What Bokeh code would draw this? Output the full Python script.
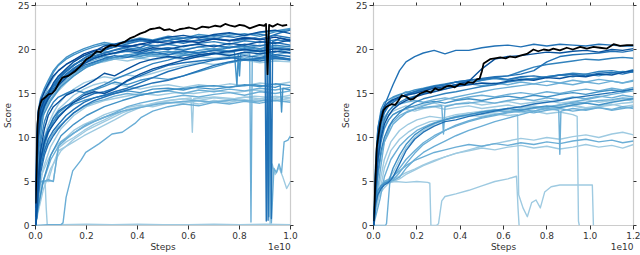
from bokeh.plotting import figure
from bokeh.models import Range1d, LinearAxis, FixedTicker, PrintfTickFormatter, CustomJSTickFormatter
from bokeh.layouts import row
from bokeh.embed import file_html
from bokeh.resources import INLINE

# ---------------- data: left panel ----------------
XL = [0, 0.005, 0.01, 0.02, 0.035, 0.05, 0.07, 0.09, 0.12, 0.15, 0.19, 0.23, 0.27,
      0.31, 0.36, 0.41, 0.46, 0.52, 0.58, 0.64, 0.7, 0.76, 0.82, 0.88, 0.94, 1.0]

T1 = [2, 8, 11.5, 13.2, 14.3, 15.0, 16.2, 17.0, 17.8, 18.6, 19.3, 19.8, 20.4, 20.6, 20.9, 21.2, 21.0, 21.4, 21.6, 21.3, 21.7, 21.9, 21.6, 22.0, 22.2, 21.8]
T2 = [1, 6, 10.5, 12.8, 14.0, 14.8, 15.8, 16.6, 17.5, 18.2, 19.0, 19.6, 19.9, 20.3, 20.5, 20.2, 20.8, 21.0, 20.7, 21.1, 21.3, 21.0, 21.4, 21.2, 21.6, 21.3]
T3 = [3, 9, 12.5, 14.0, 15.3, 16.2, 17.4, 18.2, 18.9, 19.4, 19.9, 20.3, 20.6, 20.5, 20.8, 21.1, 20.9, 21.3, 21.0, 21.5, 21.2, 21.6, 21.8, 21.5, 22.0, 22.3]
T4 = [0.5, 5, 9.5, 12.0, 13.5, 14.5, 15.5, 16.4, 17.2, 17.9, 18.6, 19.0, 19.3, 19.6, 19.8, 19.6, 20.0, 20.2, 19.9, 20.3, 20.5, 20.2, 20.6, 20.4, 20.8, 20.5]
T5 = [2, 7, 11.0, 13.2, 14.8, 15.8, 16.8, 17.6, 18.3, 18.8, 19.3, 19.5, 19.8, 19.5, 19.9, 20.1, 19.8, 20.2, 20.0, 20.3, 20.0, 20.4, 20.1, 20.5, 20.2, 20.4]
T6 = [1, 6.5, 10.8, 12.5, 13.8, 14.6, 15.4, 16.0, 16.8, 17.4, 18.0, 18.5, 18.9, 19.1, 19.4, 19.2, 19.6, 19.8, 19.5, 19.9, 20.1, 19.8, 20.2, 20.0, 20.3, 20.1]
T7 = [4, 10, 12.8, 14.2, 15.2, 16.0, 17.0, 17.6, 18.3, 18.8, 19.5, 19.9, 20.1, 20.5, 20.3, 20.6, 20.9, 20.7, 21.0, 20.8, 21.2, 21.0, 21.3, 21.1, 21.4, 21.0]
T8 = [0, 4, 9.0, 11.8, 13.2, 14.0, 14.8, 15.6, 16.5, 17.2, 18.0, 18.3, 18.7, 18.9, 19.2, 19.0, 19.3, 19.1, 19.4, 19.2, 19.5, 19.3, 19.0, 19.4, 19.2, 18.8]
T9 = [2, 7.5, 11.5, 13.4, 14.6, 15.3, 16.0, 16.9, 17.6, 18.3, 18.8, 19.3, 19.6, 19.9, 20.2, 20.0, 20.4, 20.6, 20.3, 20.7, 20.9, 20.6, 21.0, 20.8, 21.1, 20.9]
T10 = [1.5, 7, 10.5, 12.6, 13.9, 14.7, 15.9, 16.3, 17.0, 17.5, 18.2, 18.6, 19.0, 19.3, 19.1, 19.5, 19.7, 19.4, 19.8, 19.6, 19.9, 19.7, 20.0, 19.8, 20.1, 19.9]
T11 = [0, 3, 8.0, 11.0, 12.8, 13.8, 14.6, 15.3, 16.2, 17.0, 17.8, 18.4, 18.6, 18.9, 18.7, 19.0, 18.8, 19.1, 18.9, 19.2, 19.0, 19.2, 18.9, 19.1, 18.8, 19.0]
T12 = [3, 9.5, 13.0, 14.5, 15.6, 16.5, 17.6, 18.3, 19.1, 19.6, 20.1, 20.5, 20.8, 20.6, 21.0, 21.3, 21.1, 21.5, 21.3, 21.7, 21.5, 21.8, 21.6, 21.9, 22.1, 22.4]
T13 = [1, 5.5, 10.0, 12.3, 13.6, 14.4, 15.2, 15.9, 16.8, 17.6, 18.4, 19.0, 19.4, 19.6, 20.0, 19.8, 20.2, 20.0, 20.4, 20.6, 20.3, 20.7, 20.5, 20.9, 20.7, 21.1]
M1 = [0, 2, 5, 8.5, 11.0, 12.5, 13.5, 14.0, 14.8, 15.2, 15.8, 16.5, 17.3, 17.0, 17.8, 18.5, 18.9, 19.2, 19.0, 19.4, 19.6, 19.3, 19.7, 19.5, 19.8, 19.6]
M2 = [0, 1.5, 4, 7.5, 9.5, 11.0, 12.2, 13.0, 13.6, 14.0, 14.5, 15.0, 15.2, 15.6, 16.4, 17.0, 17.6, 18.2, 18.5, 18.7, 18.9, 19.1, 18.8, 19.0, 19.2, 18.9]
M3 = [0, 3, 6, 9.5, 11.8, 13.0, 14.0, 14.6, 15.0, 15.4, 15.1, 15.5, 16.0, 16.6, 17.2, 17.8, 18.4, 18.8, 19.3, 19.6, 19.9, 20.2, 20.4, 20.1, 20.5, 20.3]
M4 = [0, 2, 5, 8, 10, 11.5, 12.8, 13.8, 14.8, 15.5, 16.2, 16.6, 16.9, 16.7, 17.1, 16.9, 17.3, 17.8, 18.2, 18.5, 18.3, 18.6, 18.8, 18.5, 18.7, 18.6]
M5 = [0, 1, 3.5, 6.5, 8.5, 9.8, 10.8, 11.5, 12.5, 13.2, 14.0, 14.5, 14.8, 15.2, 15.6, 16.2, 16.8, 17.5, 18.0, 18.4, 18.8, 19.0, 19.3, 19.1, 19.4, 19.2]
M6 = [0, 2, 4.5, 7, 9, 10.5, 11.8, 12.8, 13.5, 14.2, 15.0, 15.4, 15.8, 16.3, 16.0, 16.5, 16.8, 16.6, 17.0, 17.5, 18.0, 18.5, 18.8, 18.9, 19.1, 18.9]
L1 = [0, 1, 3, 5, 5.1, 5.0, 5.1, 8.8, 9.5, 10.0, 10.8, 11.5, 12.0, 12.6, 13.2, 13.5, 13.8, 14.0, 13.9, 14.2, 14.0, 14.3, 14.1, 14.4, 14.2, 14.5]
L2 = [0, 1.5, 3.5, 5, 5.0, 5.2, 5.0, 9.0, 9.8, 10.5, 11.2, 11.8, 12.3, 12.8, 13.5, 13.9, 14.2, 14.5, 14.8, 14.6, 14.9, 15.1, 14.8, 15.2, 15.0, 15.3]
L3 = [0, 2, 4, 5.5, 6.5, 7.5, 8.5, 9.3, 10.0, 10.8, 11.5, 12.0, 12.6, 13.0, 13.4, 13.7, 13.5, 13.9, 14.1, 13.8, 14.2, 14.0, 14.3, 14.1, 14.4, 14.2]
L4 = [0, 2.5, 5, 7, 8.5, 9.5, 10.5, 11.2, 12.0, 12.8, 13.5, 14.0, 14.3, 14.7, 15.0, 14.8, 15.1, 15.3, 15.0, 15.4, 15.2, 15.5, 15.3, 15.6, 15.4, 15.7]
L5 = [0, 3, 6, 8.5, 10.0, 11.0, 11.8, 12.5, 13.2, 13.8, 14.2, 14.5, 14.8, 15.0, 15.3, 15.1, 15.5, 15.6, 15.4, 15.8, 15.9, 15.7, 16.0, 15.8, 16.1, 15.9]
L6 = [0, 1, 2.5, 4.5, 5.0, 5.1, 7.0, 8.5, 9.0, 9.5, 10.2, 10.8, 11.4, 12.0, 12.8, 13.4, 13.8, 14.2, 14.4, 14.2, 14.5, 14.3, 14.6, 14.4, 14.7, 14.5]
L7 = [0, 2, 4.5, 7.5, 9.5, 11.0, 12.3, 13.2, 14.0, 14.8, 15.5, 16.0, 16.3, 16.1, 15.8, 15.5, 15.8, 16.0, 15.7, 16.0, 15.8, 16.1, 15.9, 16.2, 16.0, 16.3]
D1 = [0, 1, 3, 6, 8, 9.2, 10.2, 11.0, 12.0, 12.8, 13.6, 14.2, 14.6, 15.0, 15.4, 15.8, 16.2, 16.5, 17.0, 17.6, 18.2, 18.6, 18.9, 18.7, 19.0, 18.8]
D2 = [0, 2, 4.5, 7.5, 9.5, 10.6, 11.5, 12.3, 13.2, 14.0, 14.8, 15.2, 15.0, 15.5, 16.5, 17.2, 17.8, 18.3, 18.8, 19.2, 19.5, 19.8, 20.0, 19.8, 20.1, 20.0]

# left runs with their own step values (drops / restarts)
S1_X = [0, 0.05, 0.1, 0.108, 0.12, 0.146, 0.178, 0.197, 0.25, 0.3, 0.34, 0.39, 0.415, 0.46, 0.52, 0.58, 0.64, 0.7, 0.76, 0.82, 0.88, 0.94, 1.0]
S1_Y = [0, 0.1, 0.1, 0.3, 3.2, 6.2, 7.4, 8.3, 9.3, 10.4, 10.6, 11.6, 12.3, 13.0, 13.5, 13.8, 13.6, 14.0, 13.8, 14.1, 13.9, 14.2, 14.0]
S2_X = [0, 0.005, 0.01, 0.02, 0.03, 0.038, 0.042, 0.046, 0.1, 0.2, 0.3, 0.4, 0.5, 0.6, 0.7, 0.8, 0.9, 1.0]
S2_Y = [0, 2, 4, 4.8, 4.9, 4.8, 2, 0.1, 0.1, 0.15, 0.1, 0.15, 0.1, 0.1, 0.15, 0.1, 0.15, 0.1]
S3_X = [0, 0.01, 0.03, 0.06, 0.1, 0.15, 0.2, 0.27, 0.34, 0.41, 0.48, 0.55, 0.62, 0.7, 0.78, 0.84, 0.845, 0.85, 0.88, 0.94, 1.0]
S3_Y = [1, 9, 13, 14.8, 16.2, 17.5, 18.5, 19.2, 19.0, 19.4, 19.2, 19.5, 19.3, 19.6, 19.4, 19.5, 0.4, 19.2, 19.6, 19.4, 19.7]
S4_X = [0, 0.01, 0.03, 0.06, 0.1, 0.15, 0.2, 0.27, 0.34, 0.41, 0.48, 0.55, 0.62, 0.7, 0.78, 0.86, 0.9, 0.905, 0.91, 0.92, 0.925, 0.93, 0.96, 1.0]
S4_Y = [2, 10, 13.5, 15, 16.5, 17.8, 18.8, 19.6, 20.2, 20.6, 20.4, 20.8, 21.0, 21.2, 21.0, 21.3, 21.1, 0.5, 21.0, 21.2, 0.8, 20.9, 21.3, 21.1]
S5_X = [0, 0.01, 0.03, 0.06, 0.1, 0.15, 0.2, 0.27, 0.34, 0.41, 0.48, 0.55, 0.62, 0.7, 0.78, 0.86, 0.92, 0.925, 0.935, 0.945, 0.955, 0.965, 0.975, 0.99, 1.0]
S5_Y = [0, 2, 5, 7.5, 9.5, 10.5, 11.5, 12.3, 13.0, 13.4, 13.8, 14.0, 14.2, 14.0, 14.3, 14.1, 14.3, 0.3, 6.5, 6.0, 7.0, 6.0, 9.5, 9.7, 10.2]
S6_X = [0, 0.01, 0.03, 0.06, 0.1, 0.15, 0.2, 0.27, 0.34, 0.41, 0.48, 0.55, 0.62, 0.7, 0.78, 0.86, 0.915, 0.92, 0.928, 0.94, 0.955, 0.97, 0.985, 1.0]
S6_Y = [0, 3, 6.5, 9, 11, 12.5, 13.5, 14.2, 14.6, 15.0, 14.8, 15.1, 15.0, 15.3, 15.1, 15.4, 15.2, 0.2, 7.0, 5.8, 6.6, 5.5, 4.2, 5.0]
S7_X = [0, 0.01, 0.03, 0.06, 0.1, 0.15, 0.2, 0.27, 0.34, 0.41, 0.48, 0.55, 0.61, 0.615, 0.62, 0.7, 0.78, 0.86, 0.94, 1.0]
S7_Y = [0, 1.5, 4, 6.5, 8.5, 9.8, 10.8, 11.8, 12.8, 13.5, 14.0, 14.3, 14.5, 10.6, 14.4, 14.6, 14.4, 14.7, 14.5, 14.8]
S8_X = [0, 0.01, 0.03, 0.06, 0.1, 0.15, 0.2, 0.27, 0.34, 0.41, 0.48, 0.55, 0.62, 0.7, 0.78, 0.79, 0.795, 0.8, 0.805, 0.86, 0.91, 0.915, 0.92, 0.96, 1.0]
S8_Y = [1, 8, 12.5, 14.2, 15.8, 17.0, 18.0, 18.8, 19.3, 19.6, 19.4, 19.8, 19.6, 19.9, 19.7, 15.9, 19.5, 17.0, 19.6, 19.8, 19.7, 1.0, 19.5, 19.9, 19.6]
S9_X = [0, 0.01, 0.03, 0.06, 0.1, 0.15, 0.2, 0.27, 0.34, 0.41, 0.48, 0.55, 0.62, 0.7, 0.78, 0.86, 0.908, 0.912, 0.918, 0.96, 1.0]
S9_Y = [3, 11, 14, 15.5, 17, 18.2, 19.2, 20, 20.5, 21, 20.8, 21.2, 21.4, 21.6, 21.4, 21.8, 21.6, 0.6, 21.5, 21.9, 22.2]
S10_X = [0, 0.01, 0.03, 0.06, 0.1, 0.15, 0.2, 0.27, 0.34, 0.41, 0.48, 0.55, 0.62, 0.7, 0.78, 0.86, 0.94, 0.96, 0.965, 0.97, 1.0]
S10_Y = [0, 2, 5, 8, 10.2, 11.5, 12.5, 13.5, 14.2, 14.8, 15.2, 15.5, 15.7, 15.5, 15.8, 16.0, 15.7, 15.9, 12.9, 15.6, 15.4]

BL_X = [0, 0.004, 0.008, 0.013, 0.02, 0.026, 0.04, 0.051, 0.065, 0.077, 0.09, 0.105, 0.128, 0.154, 0.179, 0.2, 0.218, 0.24, 0.256, 0.275,
        0.295, 0.315, 0.333, 0.352, 0.372, 0.39, 0.41, 0.43, 0.449, 0.47, 0.487, 0.505, 0.526, 0.545, 0.564, 0.585, 0.603, 0.63, 0.654, 0.68,
        0.705, 0.725, 0.744, 0.765, 0.782, 0.8, 0.82, 0.84, 0.859, 0.878, 0.897, 0.904, 0.91, 0.916, 0.93, 0.949, 0.968, 0.987]
BL_Y = [2.5, 6, 11.5, 13.2, 13.9, 14.3, 14.6, 14.9, 15.0, 15.4, 16.1, 16.8, 17.0, 17.5, 18.2, 18.9, 19.2, 19.8, 19.7, 20.2,
        20.5, 20.4, 20.7, 20.9, 21.3, 21.5, 21.8, 22.0, 22.3, 22.4, 22.5, 22.2, 22.3, 22.1, 22.3, 22.4, 22.5, 22.3, 22.6, 22.5,
        22.7, 22.6, 22.9, 22.7, 22.6, 22.8, 22.7, 22.4, 22.6, 22.8, 22.7, 22.9, 17.2, 22.8, 22.6, 22.9, 22.7, 22.8]

# ---------------- data: right panel ----------------
XR = [0, 0.005, 0.01, 0.02, 0.035, 0.05, 0.07, 0.09, 0.12, 0.15, 0.19, 0.23, 0.28, 0.33, 0.38,
      0.44, 0.5, 0.56, 0.62, 0.68, 0.74, 0.8, 0.86, 0.92, 0.98, 1.04, 1.1, 1.15, 1.2]

R1 = [0, 3, 7, 11, 12.8, 13.6, 14.8, 16.0, 17.6, 18.6, 19.2, 19.6, 19.9, 19.5, 19.9, 19.9, 20.2, 20.4, 20.5, 20.3, 20.6, 20.4, 20.6, 20.5, 20.4, 20.6, 20.5, 20.4, 20.4]
R2 = [0, 2.5, 6, 10, 12.5, 13.5, 14.0, 14.3, 14.6, 14.8, 15.0, 15.3, 15.6, 15.8, 16.0, 16.4, 17.8, 18.9, 19.2, 19.3, 19.5, 19.7, 19.6, 19.8, 19.9, 19.7, 20.0, 19.9, 20.1]
R3 = [0, 2, 5, 9, 11.8, 13.0, 13.8, 14.2, 14.5, 14.8, 15.2, 15.5, 15.8, 16.0, 16.3, 16.5, 16.7, 16.9, 17.0, 17.2, 17.6, 18.6, 19.2, 19.4, 19.5, 19.6, 19.8, 19.7, 19.9]
R4 = [0, 2, 4.5, 8, 10.5, 12.0, 13.0, 13.6, 14.0, 14.4, 14.7, 15.0, 15.4, 15.7, 16.0, 16.2, 16.5, 16.8, 17.0, 17.5, 18.0, 18.3, 18.5, 18.7, 18.9, 18.8, 19.0, 19.1, 19.0]
B1 = [0, 2, 5, 9, 11.5, 12.8, 13.6, 14.0, 14.5, 14.9, 15.2, 15.5, 15.8, 16.0, 16.3, 16.5, 16.6, 16.8, 16.6, 16.9, 17.0, 16.8, 17.1, 17.2, 17.0, 17.3, 17.4, 17.2, 17.5]
B2 = [0, 3, 7, 11, 13.2, 14.0, 14.3, 14.6, 14.9, 15.1, 15.4, 15.6, 15.9, 16.1, 16.3, 16.2, 16.5, 16.7, 16.5, 16.8, 16.6, 16.9, 17.1, 16.9, 17.2, 17.0, 17.3, 17.5, 17.4]
B3 = [0, 1.5, 4, 7.5, 10, 11.5, 12.5, 13.2, 13.8, 14.2, 14.6, 14.9, 15.2, 15.5, 15.8, 16.0, 16.2, 16.1, 16.4, 16.6, 16.5, 16.8, 16.7, 17.0, 16.9, 17.2, 17.1, 17.4, 17.6]
B4 = [0, 2.5, 6, 10, 12.5, 13.5, 14.0, 14.5, 14.8, 15.2, 15.0, 15.4, 15.7, 15.5, 15.9, 16.1, 15.9, 16.2, 16.0, 16.3, 16.1, 16.4, 16.2, 16.5, 16.3, 16.6, 16.4, 16.2, 16.4]
B5 = [0, 1, 3, 6, 8.5, 10, 11.2, 12, 12.8, 13.4, 14.0, 14.4, 14.7, 15.0, 15.2, 15.5, 15.8, 16.0, 16.3, 16.5, 16.7, 16.9, 17.1, 17.3, 17.2, 17.5, 17.6, 17.4, 17.7]
C1 = [0, 2, 5, 8.5, 11, 12.3, 13.0, 13.5, 13.8, 14.0, 14.2, 14.0, 14.3, 14.5, 14.3, 14.6, 14.8, 14.6, 14.9, 15.1, 14.9, 15.2, 15.0, 15.3, 15.5, 15.3, 15.6, 15.4, 15.7]
C2 = [0, 1.5, 4, 7, 9.5, 11, 12, 12.6, 13.0, 13.3, 13.6, 13.9, 14.1, 13.9, 14.2, 14.4, 14.2, 14.5, 14.7, 14.5, 14.8, 14.6, 14.9, 15.1, 14.9, 15.2, 15.4, 15.2, 15.5]
C3 = [0, 2, 5, 8, 10.5, 11.8, 12.5, 13.0, 13.3, 13.6, 13.4, 13.7, 13.9, 13.6, 13.8, 14.0, 13.7, 13.9, 14.1, 13.8, 14.0, 14.2, 13.9, 14.1, 14.3, 14.0, 14.2, 14.4, 14.1]
C4 = [0, 1, 3, 5.5, 8, 9.5, 10.5, 11.5, 12.2, 12.8, 13.2, 13.6, 14.0, 14.3, 14.6, 14.9, 15.2, 15.5, 15.7, 15.9, 16.1, 15.9, 16.2, 16.0, 16.3, 16.1, 16.4, 16.2, 16.5]
C5 = [0, 2, 4.5, 7.5, 10, 11.2, 12.0, 12.6, 13.0, 13.2, 13.0, 13.3, 13.5, 13.2, 13.4, 13.6, 13.3, 13.5, 13.7, 13.4, 13.6, 13.3, 13.5, 13.7, 13.4, 13.6, 13.8, 13.5, 13.7]
W1 = [0, 1, 2.5, 3.5, 4.2, 4.6, 4.9, 5.5, 7.0, 8.5, 9.8, 10.6, 11.3, 11.8, 12.0, 12.4, 12.7, 13.0, 13.3, 13.5, 13.8, 14.0, 14.2, 14.5, 14.7, 14.9, 15.1, 15.3, 15.5]
W2 = [0, 1.5, 3, 4, 4.5, 4.8, 5.0, 6.5, 8.0, 9.2, 10.3, 11.0, 11.6, 12.0, 12.3, 12.6, 12.9, 13.1, 13.3, 13.1, 13.4, 13.6, 13.4, 13.7, 13.9, 13.7, 14.0, 14.2, 14.4]
W3 = [0, 1, 2, 3.5, 4.2, 4.8, 5.0, 5.2, 6.0, 7.0, 8.2, 9.2, 10.0, 10.8, 11.4, 11.9, 12.3, 12.6, 12.9, 13.1, 13.3, 13.5, 13.7, 13.9, 14.0, 14.2, 14.3, 14.5, 14.4]
W4 = [0, 1.5, 3, 4, 4.6, 5.0, 5.3, 6.0, 7.5, 8.8, 10.0, 10.8, 11.5, 12.0, 12.4, 12.8, 13.0, 13.2, 13.0, 13.3, 13.5, 13.2, 13.4, 13.6, 13.3, 13.5, 13.7, 13.9, 14.0]
W5 = [0, 1, 2.5, 3.8, 4.5, 4.9, 5.0, 5.1, 5.5, 6.5, 7.5, 8.3, 9.0, 9.6, 10.2, 10.8, 11.3, 11.8, 12.2, 12.6, 13.0, 13.4, 13.7, 14.0, 14.3, 14.6, 14.9, 15.1, 15.3]
V1 = [0, 1, 2, 3, 3.8, 4.3, 4.8, 5.0, 5.3, 5.8, 6.3, 6.8, 7.3, 7.8, 8.2, 8.6, 9.0, 9.3, 9.6, 9.9, 9.7, 10.0, 9.8, 10.1, 10.3, 10.0, 10.4, 10.6, 10.3]
V2 = [0, 1.5, 2.8, 3.8, 4.5, 5.0, 5.2, 5.6, 6.2, 6.8, 7.4, 7.8, 8.3, 8.6, 8.9, 9.2, 9.0, 9.3, 9.1, 9.4, 9.2, 9.5, 9.3, 9.6, 9.8, 9.5, 9.7, 9.4, 9.6]
V3 = [0, 1, 2.5, 3.5, 4.2, 4.7, 5.0, 5.3, 5.6, 6.0, 6.4, 6.9, 7.4, 7.8, 8.2, 8.5, 8.8, 8.6, 8.9, 9.1, 8.8, 9.0, 8.7, 8.9, 9.2, 8.9, 9.1, 8.8, 9.2]

RS1_X = [0, 0.01, 0.03, 0.05, 0.1, 0.15, 0.2, 0.25, 0.26, 0.265, 0.29, 0.3, 0.315, 0.33, 0.38, 0.44, 0.5, 0.56, 0.62, 0.66, 0.667, 0.672]
RS1_Y = [0, 2, 4, 4.9, 5.0, 4.9, 5.0, 4.9, 4.8, 0, 0, 0.2, 2.8, 3.3, 3.6, 4.0, 4.5, 5.0, 5.3, 5.6, 2.0, 0]
RS3_X = [0, 0.01, 0.03, 0.05, 0.08, 0.12, 0.16, 0.2, 0.26, 0.32, 0.38, 0.44, 0.5, 0.56, 0.62, 0.665, 0.67, 0.69, 0.71, 0.73, 0.75, 0.77, 0.79, 0.82, 0.86, 0.92, 0.98, 1.01, 1.015]
RS3_Y = [0, 1.5, 4, 6.5, 8.5, 9.8, 10.6, 11.2, 11.8, 12.0, 12.3, 12.5, 12.4, 12.7, 12.5, 12.6, 3.5, 2.0, 1.0, 2.6, 2.9, 2.0, 3.8, 4.4, 4.6, 4.6, 4.6, 4.6, 0]
RS4_X = [0, 0.055, 0.06, 0.075, 0.09, 0.12, 0.15, 0.19, 0.23, 0.28, 0.33, 0.38, 0.44, 0.5, 0.56, 0.62, 0.68, 0.74, 0.8, 0.86, 0.92, 0.98, 1.04, 1.1, 1.15, 1.2]
RS4_Y = [0, 0, 0.2, 4.8, 5.5, 6.5, 7.5, 8.5, 9.4, 10.2, 10.8, 11.3, 11.8, 12.2, 12.5, 12.8, 13.0, 12.8, 13.1, 13.3, 13.0, 13.2, 13.4, 13.1, 13.3, 13.5]
RS5_X = [0, 0.01, 0.03, 0.05, 0.08, 0.12, 0.16, 0.2, 0.26, 0.32, 0.38, 0.44, 0.5, 0.56, 0.62, 0.68, 0.74, 0.8, 0.855, 0.86, 0.865, 0.92, 0.98, 1.04, 1.1, 1.15, 1.2]
RS5_Y = [0, 1, 3, 5.5, 7.5, 9.0, 10.0, 10.8, 11.5, 12.0, 12.4, 12.6, 12.9, 13.1, 12.9, 13.2, 13.0, 13.3, 13.1, 8.1, 13.0, 13.3, 13.1, 13.4, 13.2, 13.5, 13.3]
RS6_X = [0, 0.01, 0.03, 0.05, 0.08, 0.12, 0.16, 0.2, 0.26, 0.32, 0.38, 0.44, 0.5, 0.56, 0.62, 0.68, 0.74, 0.8, 0.86, 0.92, 0.94, 0.946, 0.95]
RS6_Y = [0, 2, 5, 7.5, 9.5, 10.8, 11.5, 12.0, 12.4, 12.2, 12.6, 12.8, 12.6, 12.9, 13.1, 12.8, 13.0, 12.7, 12.9, 12.6, 12.4, 0.5, 0]
RS7_X = [0, 0.01, 0.03, 0.05, 0.08, 0.12, 0.16, 0.2, 0.26, 0.315, 0.323, 0.33, 0.38, 0.44, 0.5, 0.56, 0.62, 0.68, 0.74, 0.8, 0.86, 0.92, 0.98, 1.04, 1.1, 1.15, 1.2]
RS7_Y = [0, 2.5, 6, 9.5, 11.5, 12.5, 13.0, 13.3, 13.5, 13.6, 10.4, 13.5, 13.8, 13.9, 14.1, 13.9, 14.2, 14.4, 14.2, 14.5, 14.3, 14.6, 14.4, 14.7, 14.5, 14.8, 14.6]

BR_X = [0, 0.005, 0.015, 0.031, 0.046, 0.06, 0.085, 0.1, 0.115, 0.13, 0.154, 0.17, 0.185, 0.2, 0.215, 0.246, 0.265, 0.285, 0.3, 0.315,
        0.335, 0.354, 0.375, 0.4, 0.42, 0.438, 0.46, 0.477, 0.49, 0.5, 0.508, 0.538, 0.56, 0.585, 0.61, 0.63, 0.655, 0.677, 0.708, 0.738,
        0.76, 0.785, 0.81, 0.83, 0.86, 0.892, 0.92, 0.954, 0.985, 1.015, 1.045, 1.077, 1.108, 1.138, 1.17, 1.2]
BR_Y = [0.5, 2.8, 8.9, 11.6, 13.1, 13.5, 13.8, 13.7, 14.2, 14.8, 14.6, 14.3, 14.4, 14.7, 15.0, 15.3, 15.1, 15.6, 15.4, 15.5,
        15.8, 15.9, 15.7, 16.1, 16.0, 16.3, 16.2, 16.6, 16.7, 17.5, 18.4, 18.9, 19.0, 19.1, 19.0, 19.2, 19.1, 19.3, 19.5, 20.0,
        19.8, 20.0, 19.9, 20.1, 19.9, 20.2, 20.0, 20.3, 20.1, 20.3, 20.2, 20.1, 20.6, 20.4, 20.5, 20.5]

Y_TICKS = [0, 5, 10, 15, 20, 25]
XL_TICKS = [0, 0.2, 0.4, 0.6, 0.8, 1.0]
XR_TICKS = [0, 0.2, 0.4, 0.6, 0.8, 1.0, 1.2]
X_TITLE = "Steps"
Y_TITLE = "Score"
X_OFFSET_TEXT = "1e10"

# ---------------- styling ----------------
C_VL, C_L, C_M2, C_M, C_D2, C_D, C_DD = "#9ecae1", "#6baed6", "#4292c6", "#3182bd", "#2171b5", "#08519c", "#084594"
ORDER = [C_VL, C_L, C_M2, C_M, C_D2, C_D, C_DD]

left_runs = [
    (XL, T1, C_D), (XL, T2, C_D2), (XL, T3, C_M2), (XL, T4, C_D2), (XL, T5, C_L), (XL, T6, C_M2),
    (XL, T7, C_DD), (XL, T8, C_L), (XL, T9, C_M), (XL, T10, C_D2), (XL, T11, C_VL), (XL, T12, C_M2),
    (XL, T13, C_D), (XL, M1, C_D), (XL, M2, C_D2), (XL, M3, C_M), (XL, M4, C_VL), (XL, M5, C_D2),
    (XL, M6, C_M2), (XL, L1, C_VL), (XL, L2, C_L), (XL, L3, C_VL), (XL, L4, C_L), (XL, L5, C_M2),
    (XL, L6, C_VL), (XL, L7, C_VL), (XL, D1, C_D2), (XL, D2, C_D),
    (S1_X, S1_Y, C_L), (S2_X, S2_Y, C_VL), (S3_X, S3_Y, C_L), (S4_X, S4_Y, C_D2), (S5_X, S5_Y, C_L),
    (S6_X, S6_Y, C_VL), (S7_X, S7_Y, C_VL), (S8_X, S8_Y, C_M2), (S9_X, S9_Y, C_D2), (S10_X, S10_Y, C_M2),
]
right_runs = [
    (XR, R1, C_D2), (XR, R2, C_D), (XR, R3, C_D2), (XR, R4, C_M), (XR, B1, C_D2), (XR, B2, C_M2),
    (XR, B3, C_D), (XR, B4, C_L), (XR, B5, C_M), (XR, C1, C_L), (XR, C2, C_M2), (XR, C3, C_VL),
    (XR, C4, C_L), (XR, C5, C_VL), (XR, W1, C_D2), (XR, W2, C_M2), (XR, W3, C_L), (XR, W4, C_VL),
    (XR, W5, C_L), (XR, V1, C_VL), (XR, V2, C_L), (XR, V3, C_VL),
    (RS1_X, RS1_Y, C_VL), (RS3_X, RS3_Y, C_VL), (RS4_X, RS4_Y, C_L), (RS5_X, RS5_Y, C_L),
    (RS6_X, RS6_Y, C_VL), (RS7_X, RS7_Y, C_L),
]

FONT = "DejaVu Sans"
TXT = "#333333"
FS = "9px"


def style_axis(ax, ticks, labels=True, tick_out=4):
    ax.ticker = FixedTicker(ticks=ticks)
    ax.axis_line_color = None
    ax.major_tick_line_color = TXT
    ax.major_tick_out = tick_out
    ax.major_tick_in = 0
    ax.minor_tick_line_color = None
    ax.major_label_text_font = FONT
    ax.major_label_text_color = TXT
    ax.major_label_standoff = 2 if labels else 0
    ax.major_label_text_font_size = FS if labels else "1px"
    if not labels:
        ax.formatter = CustomJSTickFormatter(code="return ''")
    ax.axis_label_text_font = FONT
    ax.axis_label_text_font_size = FS
    ax.axis_label_text_font_style = "normal"
    ax.axis_label_text_color = TXT
    ax.axis_label_standoff = 2


def make_fig(xmax, xticks, runs, black, w, bl, br, frame_w):
    p = figure(width=w, height=255, x_range=Range1d(0, xmax), y_range=Range1d(0, 25),
               output_backend="svg", toolbar_location=None,
               min_border_left=bl, min_border_right=br, min_border_top=5, min_border_bottom=30,
               y_axis_label=Y_TITLE)
    p.grid.visible = False
    p.outline_line_color = "#cccccc"
    p.outline_line_width = 1.2
    p.background_fill_color = "white"
    p.border_fill_color = "white"
    style_axis(p.xaxis[0], xticks)
    p.xaxis[0].formatter = PrintfTickFormatter(format="%.1f")
    style_axis(p.yaxis[0], Y_TICKS)
    # second row below the tick labels: axis title in the middle and the 1e10 multiplier at the right end
    mid = xmax / 2
    off_pos = xmax - 11.3 / frame_w * xmax
    title_axis = LinearAxis()
    style_axis(title_axis, [mid, off_pos], tick_out=0)
    title_axis.major_tick_line_color = None
    title_axis.major_label_standoff = 0
    title_axis.major_label_overrides = {mid: X_TITLE, off_pos: X_OFFSET_TEXT}
    p.add_layout(title_axis, "below")
    top = LinearAxis()
    style_axis(top, xticks, labels=False, tick_out=3)
    p.add_layout(top, "above")
    right = LinearAxis()
    style_axis(right, Y_TICKS, labels=False, tick_out=3)
    p.add_layout(right, "right")
    for c in ORDER:
        for xs, ys, col in runs:
            if col == c:
                n = min(len(xs), len(ys))
                p.line(xs[:n], ys[:n], line_color=col, line_width=1.4, line_join="round")
    bx, by = black
    p.line(bx, by, line_color="black", line_width=1.8, line_join="round")
    return p


p1 = make_fig(1.0, XL_TICKS, left_runs, (BL_X, BL_Y), 320, 30, 30, 260)
p2 = make_fig(1.2, XR_TICKS, right_runs, (BR_X, BR_Y), 320, 53, 7, 260)
layout = row(p1, p2)
open("out.html", "w").write(file_html(layout, INLINE))
